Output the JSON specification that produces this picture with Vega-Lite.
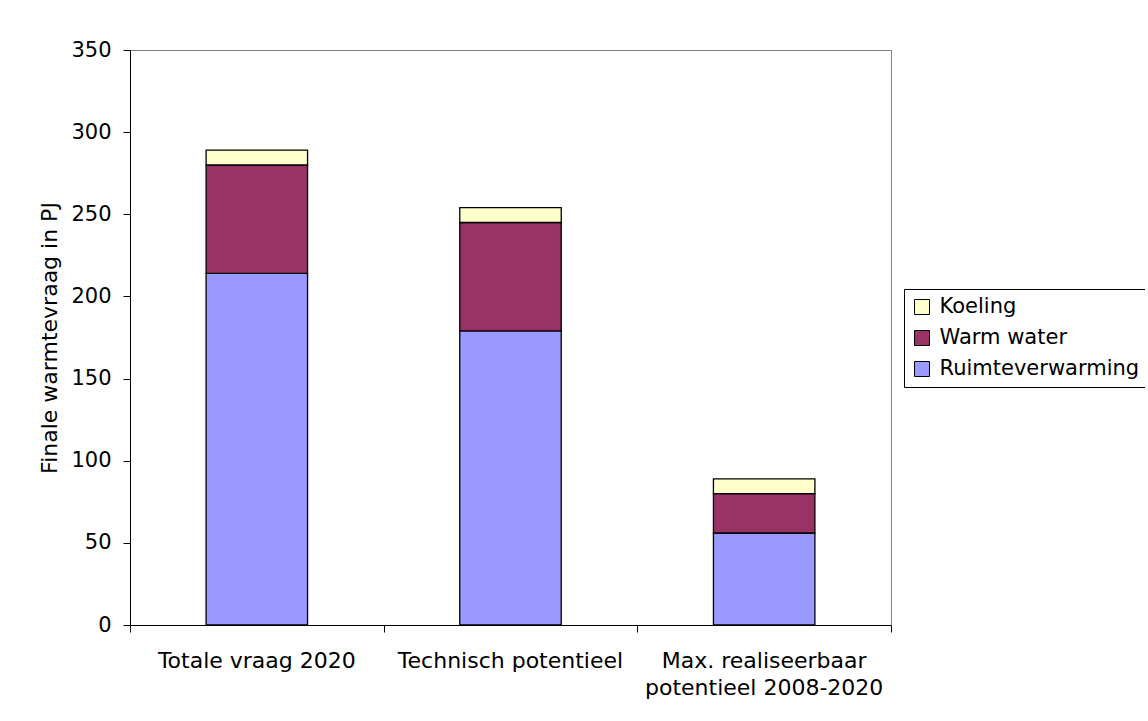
{
  "$schema": "https://vega.github.io/schema/vega-lite/v6.json",
  "autosize": {"type": "none"},
  "width": 761,
  "height": 575,
  "padding": {"left": 130, "top": 50, "right": 254, "bottom": 96},
  "background": "white",
  "data": {
    "values": [
      {"categorie": "Totale vraag 2020", "type": "Ruimteverwarming", "waarde": 214, "volg": 1},
      {"categorie": "Totale vraag 2020", "type": "Warm water", "waarde": 66, "volg": 2},
      {"categorie": "Totale vraag 2020", "type": "Koeling", "waarde": 9, "volg": 3},
      {"categorie": "Technisch potentieel", "type": "Ruimteverwarming", "waarde": 179, "volg": 1},
      {"categorie": "Technisch potentieel", "type": "Warm water", "waarde": 66, "volg": 2},
      {"categorie": "Technisch potentieel", "type": "Koeling", "waarde": 9, "volg": 3},
      {"categorie": "Max. realiseerbaar potentieel 2008-2020", "type": "Ruimteverwarming", "waarde": 56, "volg": 1},
      {"categorie": "Max. realiseerbaar potentieel 2008-2020", "type": "Warm water", "waarde": 24, "volg": 2},
      {"categorie": "Max. realiseerbaar potentieel 2008-2020", "type": "Koeling", "waarde": 9, "volg": 3}
    ]
  },
  "config": {
    "font": "DejaVu Sans",
    "view": {"stroke": "#808080", "strokeWidth": 1},
    "axis": {
      "labelFont": "DejaVu Sans",
      "titleFont": "DejaVu Sans",
      "labelColor": "black",
      "titleColor": "black",
      "domainColor": "black",
      "tickColor": "black",
      "grid": false
    }
  },
  "resolve": {"scale": {"x": "independent"}, "axis": {"x": "independent"}},
  "layer": [
    {
      "mark": {"type": "bar", "stroke": "black", "strokeWidth": 1.3},
      "encoding": {
        "x": {
          "field": "categorie",
          "type": "nominal",
          "sort": null,
          "scale": {"paddingInner": 0.6, "paddingOuter": 0.3},
          "axis": {
            "title": null,
            "labelAngle": 0,
            "labelFontSize": 22,
            "labelPadding": 25,
            "labelLimit": 400,
            "ticks": false,
            "tickSize": 0,
            "domain": true,
            "labelLineHeight": 27,
            "labelExpr": "datum.label == 'Max. realiseerbaar potentieel 2008-2020' ? ['Max. realiseerbaar', 'potentieel 2008-2020'] : datum.label"
          }
        },
        "y": {
          "field": "waarde",
          "type": "quantitative",
          "stack": "zero",
          "scale": {"domain": [0, 350], "nice": false},
          "axis": {
            "title": "Finale warmtevraag in PJ",
            "titleFontSize": 22,
            "titleFontWeight": "normal",
            "titlePadding": 9,
            "labelFontSize": 21,
            "labelPadding": 12,
            "tickSize": 7,
            "values": [0, 50, 100, 150, 200, 250, 300, 350]
          }
        },
        "color": {
          "field": "type",
          "type": "nominal",
          "scale": {
            "domain": ["Koeling", "Warm water", "Ruimteverwarming"],
            "range": ["#FFFFCC", "#993366", "#9999FF"]
          },
          "legend": {
            "title": null,
            "orient": "none",
            "legendX": 774,
            "legendY": 239,
            "symbolType": "square",
            "symbolSize": 225,
            "symbolStrokeColor": "black",
            "symbolStrokeWidth": 1,
            "labelFontSize": 21,
            "labelColor": "black",
            "labelOffset": 7,
            "rowPadding": 9,
            "padding": 7.5,
            "strokeColor": "black",
            "fillColor": "white",
            "labelLimit": 400
          }
        },
        "order": {"field": "volg", "type": "quantitative", "sort": "ascending"}
      }
    },
    {
      "mark": {"type": "tick", "opacity": 0},
      "encoding": {
        "x": {
          "field": "volg",
          "type": "quantitative",
          "scale": {"domain": [0, 3], "nice": false, "zero": false},
          "axis": {
            "orient": "bottom",
            "labels": false,
            "domain": false,
            "ticks": true,
            "tickSize": 7,
            "values": [0, 1, 2, 3],
            "title": null,
            "grid": false
          }
        }
      }
    }
  ]
}
